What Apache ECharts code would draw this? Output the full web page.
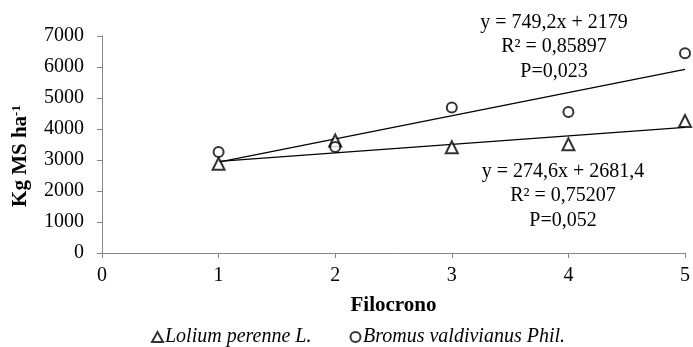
<!DOCTYPE html>
<html>
<head>
<meta charset="utf-8">
<script src="https://cdn.jsdelivr.net/npm/echarts@6/dist/echarts.min.js"></script>
<style>
  html, body { margin: 0; padding: 0; background: #fff; }
  #chart { width: 693px; height: 347px; }
</style>
</head>
<body>
<div id="chart"></div>
<script>
// Phyllochron (x) vs dry-matter yield, two grass species
const filocrono = [1, 2, 3, 4, 5];
const lolium = [2880, 3630, 3410, 3510, 4260];
const bromus = [3260, 3420, 4690, 4545, 6440];

// Linear fits: [slope, intercept]
const loliumFit = [274.6, 2681.4];
const bromusFit = [749.2, 2179];

const loliumLabel = ['y = 274,6x + 2681,4', 'R² = 0,75207', 'P=0,052'];
const bromusLabel = ['y = 749,2x + 2179', 'R² = 0,85897', 'P=0,023'];

const xTicks = [0, 1, 2, 3, 4, 5];
const yTicks = [0, 1000, 2000, 3000, 4000, 5000, 6000, 7000];

const FONT = '"Liberation Serif", "Times New Roman", serif';
const AXIS_GREY = '#868686';
const FS = 20;

function fitLine(fit) {
  const x0 = filocrono[0], x1 = filocrono[filocrono.length - 1];
  return [[x0, fit[0] * x0 + fit[1]], [x1, fit[0] * x1 + fit[1]]];
}

const chart = echarts.init(document.getElementById('chart'), null, { renderer: 'canvas' });

// Regression annotation block, centred horizontally on cx
const labelText = (lines, cx, top) => ({
  type: 'text',
  x: cx,
  y: top,
  style: {
    text: lines.join('\n'),
    font: FS + 'px ' + FONT,
    fill: '#000',
    align: 'center',
    verticalAlign: 'top',
    lineHeight: 24.5
  }
});

chart.setOption({
  animation: false,
  backgroundColor: '#fff',
  grid: { left: 102, right: 5, top: 36, bottom: 94 },
  xAxis: {
    type: 'value',
    min: xTicks[0],
    max: xTicks[xTicks.length - 1],
    interval: 1,
    name: 'Filocrono',
    nameLocation: 'middle',
    nameGap: 42,
    nameTextStyle: { fontFamily: FONT, fontSize: 21, fontWeight: 'bold', color: '#000' },
    axisLine: { show: true, lineStyle: { color: AXIS_GREY, width: 1 } },
    axisTick: { show: true, length: 5, lineStyle: { color: AXIS_GREY } },
    axisLabel: { fontFamily: FONT, fontSize: FS, color: '#000', margin: 13 },
    splitLine: { show: false }
  },
  yAxis: {
    type: 'value',
    min: yTicks[0],
    max: yTicks[yTicks.length - 1],
    interval: 1000,
    axisLine: { show: true, lineStyle: { color: AXIS_GREY, width: 1 } },
    axisTick: { show: true, length: 5, lineStyle: { color: AXIS_GREY } },
    axisLabel: {
      fontFamily: FONT, fontSize: FS, color: '#000', margin: 18,
      formatter: (v) => String(v)
    },
    splitLine: { show: false }
  },
  legend: {
    data: [
      { name: 'Lolium perenne L.', icon: 'emptyTriangle' },
      { name: 'Bromus valdivianus Phil.', icon: 'emptyCircle' }
    ],
    left: 146,
    top: 322,
    itemWidth: 11,
    itemHeight: 10,
    itemGap: 38,
    textStyle: { fontFamily: FONT, fontSize: FS, fontStyle: 'italic', color: '#000', padding: [0, 0, 0, -3] }
  },
  series: [
    {
      name: 'Lolium fit',
      type: 'line',
      data: fitLine(loliumFit),
      symbol: 'none',
      silent: true,
      lineStyle: { color: '#000', width: 1.3 },
      z: 1
    },
    {
      name: 'Bromus fit',
      type: 'line',
      data: fitLine(bromusFit),
      symbol: 'none',
      silent: true,
      lineStyle: { color: '#000', width: 1.3 },
      z: 1
    },
    {
      name: 'Lolium perenne L.',
      type: 'scatter',
      symbol: 'emptyTriangle',
      symbolSize: 12,
      data: filocrono.map((x, i) => [x, lolium[i]]),
      itemStyle: { color: '#000', borderColor: '#000', borderWidth: 1.3 },
      z: 3
    },
    {
      name: 'Bromus valdivianus Phil.',
      type: 'scatter',
      symbol: 'emptyCircle',
      symbolSize: 10,
      data: filocrono.map((x, i) => [x, bromus[i]]),
      itemStyle: { color: '#000', borderColor: '#000', borderWidth: 1.3 },
      z: 3
    }
  ],
  graphic: [
    labelText(bromusLabel, 554, 10),
    labelText(loliumLabel, 563, 159),
    {
      // Y axis title, rotated, with superscript exponent
      type: 'text',
      x: 21,
      y: 156,
      rotation: Math.PI / 2,
      style: {
        text: '{t|Kg MS ha}{s|-1}',
        align: 'center',
        verticalAlign: 'middle',
        rich: {
          t: { fontFamily: FONT, fontSize: 21, fontWeight: 'bold', fill: '#000', lineHeight: 22 },
          s: { fontFamily: FONT, fontSize: 13, fontWeight: 'bold', fill: '#000', verticalAlign: 'top', lineHeight: 22 }
        }
      }
    }
  ]
});
</script>
</body>
</html>
